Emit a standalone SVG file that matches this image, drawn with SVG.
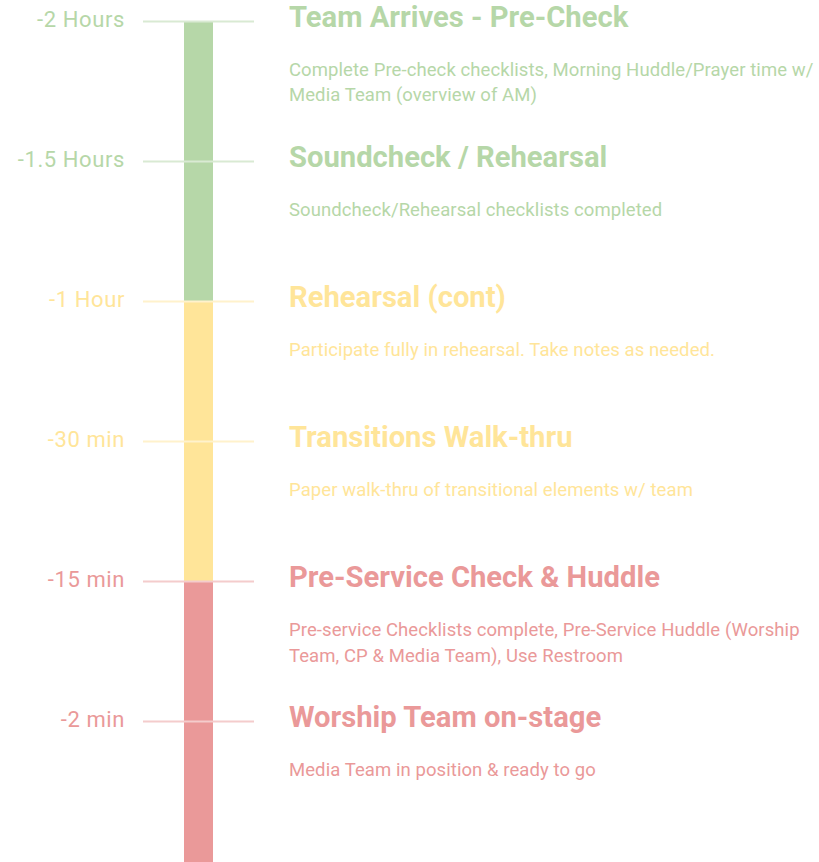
<svg xmlns="http://www.w3.org/2000/svg" width="819" height="862" viewBox="0 0 819 862">
<style>
.lbl{font-family:Roboto,"Liberation Sans",sans-serif;font-size:22px;letter-spacing:0.6px;text-anchor:end}
.ttl{font-family:Roboto,"Liberation Sans",sans-serif;font-size:29.2px;font-weight:bold}
.dsc{font-family:Roboto,"Liberation Sans",sans-serif;font-size:18.5px;letter-spacing:0.08px}
.g{fill:#b6d7a8}.y{fill:#ffe599}.r{fill:#ea9999}
.gl{stroke:#d9ead3;stroke-width:2}.yl{stroke:#fff2cc;stroke-width:2}.rl{stroke:#f4cccc;stroke-width:2}
</style>
<g id="bar">
<rect x="184" y="22" width="29" height="280" class="g"/>
<rect x="184" y="302" width="29" height="280" class="y"/>
<rect x="184" y="582" width="29" height="280" class="r"/>
</g>
<g id="connectors">
<line x1="143" y1="21.5" x2="254" y2="21.5" class="gl"/>
<line x1="143" y1="161.5" x2="254" y2="161.5" class="gl"/>
<line x1="143" y1="301.5" x2="254" y2="301.5" class="yl"/>
<line x1="143" y1="441.5" x2="254" y2="441.5" class="yl"/>
<line x1="143" y1="581.5" x2="254" y2="581.5" class="rl"/>
<line x1="143" y1="721.5" x2="254" y2="721.5" class="rl"/>
</g>
<g id="step1">
<text x="125" y="27" class="lbl g">-2 Hours</text>
<text x="289" y="27" class="ttl g">Team Arrives - Pre-Check</text>
<text x="289" y="76" class="dsc g">Complete Pre-check checklists, Morning Huddle/Prayer time w/</text>
<text x="289" y="101" class="dsc g">Media Team (overview of AM)</text>
</g>
<g id="step2">
<text x="125" y="167" class="lbl g">-1.5 Hours</text>
<text x="289" y="167" class="ttl g">Soundcheck / Rehearsal</text>
<text x="289" y="216" class="dsc g">Soundcheck/Rehearsal checklists completed</text>
</g>
<g id="step3">
<text x="125" y="307" class="lbl y">-1 Hour</text>
<text x="289" y="307" class="ttl y">Rehearsal (cont)</text>
<text x="289" y="356" class="dsc y">Participate fully in rehearsal. Take notes as needed.</text>
</g>
<g id="step4">
<text x="125" y="447" class="lbl y">-30 min</text>
<text x="289" y="447" class="ttl y">Transitions Walk-thru</text>
<text x="289" y="496" class="dsc y">Paper walk-thru of transitional elements w/ team</text>
</g>
<g id="step5">
<text x="125" y="587" class="lbl r">-15 min</text>
<text x="289" y="587" class="ttl r">Pre-Service Check &amp; Huddle</text>
<text x="289" y="636" class="dsc r">Pre-service Checklists complete, Pre-Service Huddle (Worship</text>
<text x="289" y="662" class="dsc r">Team, CP &amp; Media Team), Use Restroom</text>
</g>
<g id="step6">
<text x="125" y="727" class="lbl r">-2 min</text>
<text x="289" y="727" class="ttl r">Worship Team on-stage</text>
<text x="289" y="776" class="dsc r">Media Team in position &amp; ready to go</text>
</g>
</svg>
